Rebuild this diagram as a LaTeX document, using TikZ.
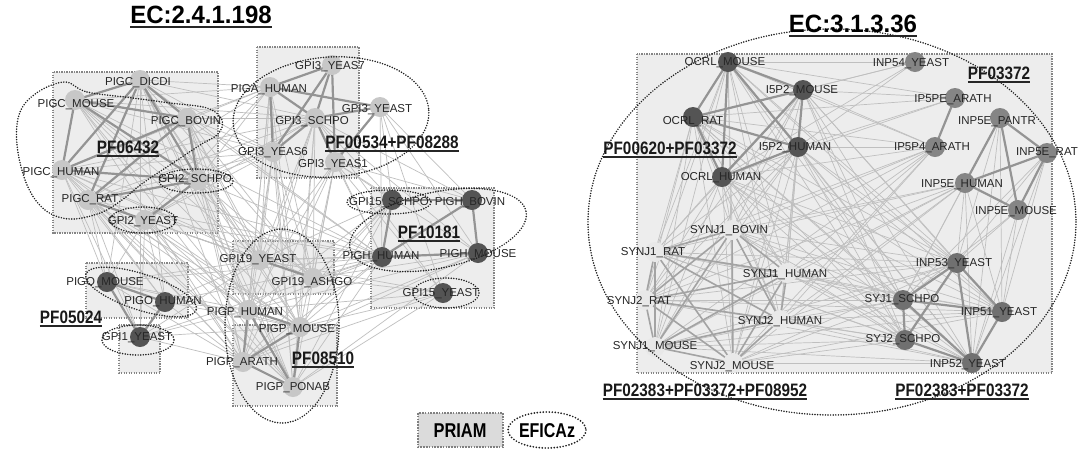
\documentclass[tikz,border=0pt]{standalone}
\usepackage{fontspec}
\usepackage{graphicx}
\setmainfont{Liberation Sans}
\definecolor{cLight}{gray}{0.78}
\definecolor{cDark}{gray}{0.33}
\definecolor{cMid}{gray}{0.52}
\definecolor{cMidd}{gray}{0.44}
\definecolor{cPale}{gray}{0.91}
\definecolor{boxfill}{gray}{0.93}
\begin{document}
\begin{tikzpicture}[x=1pt,y=-1pt,
  lab/.style={font=\fontsize{11.5}{13}\selectfont, text=black!85, inner sep=0pt},
  pf/.style={font=\fontsize{18}{20}\selectfont\bfseries, inner sep=0pt, text=black!90},
  ttl/.style={font=\fontsize{25}{28}\selectfont\bfseries, inner sep=0pt},
  ul/.style={line width=1.8pt, black!85},
  nd/.style={circle, minimum size=20pt, inner sep=0pt, draw=none},
  thinE/.style={draw=black!25, line width=0.7pt},
  thickE/.style={draw=black!42, line width=2.2pt},
  medE/.style={draw=black!36, line width=1.6pt},
  prbox/.style={fill=boxfill, draw=black!48, line width=1.7pt, dash pattern=on 1.4pt off 1.1pt},
  ef/.style={draw=black!88, line width=1.7pt, dash pattern=on 0pt off 2.6pt, line cap=round}]
\useasboundingbox (0,0) rectangle (1080,451);
\fill[white] (0,0) rectangle (1080,451);

% ---------- coordinates: left cluster ----------
\foreach \n/\x/\y in {dicdi/140/80, pmouse/75/100, bovin/187/118, phuman/62/170, gtschpo/198/180, prat/88/200, gtyeast/145/220,
  gysev/332/65, piga/270/87, gyeast/380/107, gschpo/315/118, gysix/273/152, gyone/335/162,
  gfschpo/392/200, hbovin/472/200, hhuman/382/257, hmouse/478/253, gfyeast/443/293,
  gnyeast/260/260, gnashgo/313/278,
  phum/248/310, pmou/300/327, parath/243/362, pponab/293/387,
  omouse/107/282, ohuman/165/302, goyeast/140/337}
  \coordinate (\n) at (\x,\y);
% ---------- coordinates: right cluster ----------
\foreach \n/\x/\y in {ocmouse/728/62, ipmouse/803/90, ocrat/693/117, iphuman/798/147, ochuman/722/177,
  sobovin/732/230, sorat/655/252, sohuman/787/273, strat/645/300, sthuman/780/320, somouse/655/347, stmouse/733/363,
  ifour/915/62, ippe/955/98, epantr/1000/118, ippf/935/147, erat/1047/153, ehuman/965/183, emouse/1018/210,
  ithree/957/263, sjone/903/300, ione/1002/312, sjtwo/905/340, itwo/972/363}
  \coordinate (\n) at (\x,\y);

% ---------- PRIAM boxes ----------
\path[prbox] (53,72) rectangle (218,233);
\path[prbox] (257,47) rectangle (359,178);
\path[prbox] (371,188) rectangle (494,308);
\path[prbox] (233,241) rectangle (334,294);
\path[prbox] (233,325) rectangle (337,406);
\path[prbox] (86,263) rectangle (188,318);
\path[prbox] (119,325) rectangle (160,373);
\path[prbox] (637,54) rectangle (1052,373);

% ---------- thin edges, left ----------
\foreach \a in {dicdi,pmouse,bovin,phuman,gtschpo,prat,gtyeast} {
  \foreach \b in {phum,pmou,parath,pponab,gnyeast,gnashgo,gschpo,piga,gysix,hhuman} \draw[thinE] (\a) -- (\b);
}
\foreach \a in {gysix,gyone,gschpo,piga} {
  \foreach \b in {phum,pmou,parath,pponab,gnyeast,gnashgo} \draw[thinE] (\a) -- (\b);
}
\foreach \a in {gyone,gyeast,gschpo} {
  \foreach \b in {gfschpo,hbovin,hhuman,hmouse,gfyeast} \draw[thinE] (\a) -- (\b);
}
\foreach \a in {phum,pmou,parath,pponab,gnyeast,gnashgo} {
  \foreach \b in {hhuman,hmouse,gfyeast,gfschpo} \draw[thinE] (\a) -- (\b);
}
\foreach \a in {omouse,ohuman,goyeast} {
  \foreach \b in {phum,parath,gnyeast,pmou,phuman,prat,gtyeast,dicdi,hhuman} \draw[thinE] (\a) -- (\b);
}
% ---------- thin edges, right ----------
\foreach \a in {ocmouse,ipmouse,ocrat,iphuman,ochuman} {
  \foreach \b in {sobovin,sorat,sohuman,strat,sthuman,somouse,stmouse,ithree,sjone,ione,sjtwo,itwo,ifour,ippe,ippf} \draw[thinE] (\a) -- (\b);
}
\foreach \a in {sobovin,sorat,sohuman,strat,sthuman,somouse,stmouse} {
  \foreach \b in {ithree,sjone,ione,sjtwo,itwo,ippf,ehuman} \draw[thinE] (\a) -- (\b);
}
\foreach \a in {ehuman,emouse,erat,epantr} {
  \foreach \b in {ithree,ione,itwo,sjone} \draw[thinE] (\a) -- (\b);
}

% ---------- thick edges ----------
\foreach \a/\b in {dicdi/pmouse, dicdi/phuman, dicdi/prat, dicdi/gtschpo, dicdi/bovin, pmouse/gtschpo, pmouse/bovin,
  bovin/gtschpo, bovin/prat, phuman/gtschpo, prat/gtschpo, phuman/bovin, gtschpo/gtyeast, prat/gtyeast, pmouse/phuman,
  gysev/piga, gysev/gschpo, gysev/gysix, gysev/gyone, piga/gschpo, piga/gysix, gschpo/gyone, gschpo/gyeast, gyeast/gyone,
  gysix/gschpo, piga/gyeast,
  hbovin/hmouse, hhuman/hmouse, hhuman/hbovin, gfschpo/hhuman, gfschpo/hbovin,
  gnyeast/gnashgo,
  phum/parath, phum/pponab, pmou/parath, pmou/pponab, parath/pponab, phum/pmou,
  omouse/ohuman, omouse/goyeast, ohuman/goyeast,
  ocmouse/ipmouse, ocmouse/ocrat, ocmouse/iphuman, ocmouse/ochuman, ipmouse/ocrat, ipmouse/iphuman, ipmouse/ochuman,
  ocrat/iphuman, ocrat/ochuman, iphuman/ochuman,
  epantr/erat, epantr/ehuman, epantr/emouse, erat/ehuman, erat/emouse, ehuman/emouse, ippe/ippf,
  ithree/ione, ithree/itwo, ione/itwo, sjone/sjtwo, ithree/sjone, sjone/itwo, sjtwo/itwo, ithree/sjtwo, sjone/ione}
  \draw[thickE] (\a) -- (\b);
\foreach \a/\b in {sobovin/sorat, sobovin/sohuman, sobovin/strat, sobovin/sthuman, sobovin/somouse, sobovin/stmouse,
  sorat/sohuman, sorat/strat, sorat/sthuman, sorat/somouse, sorat/stmouse, sohuman/strat, sohuman/sthuman, sohuman/somouse,
  sohuman/stmouse, strat/sthuman, strat/somouse, strat/stmouse, sthuman/somouse, sthuman/stmouse, somouse/stmouse}
  \draw[medE] (\a) -- (\b);

% ---------- circles ----------
\foreach \n in {dicdi,pmouse,bovin,phuman,gtschpo,prat,gtyeast,gysev,piga,gyeast,gschpo,gysix,gyone,gnyeast,gnashgo,phum,pmou,parath,pponab}
  \node[nd, fill=cLight] (c-\n) at (\n) {};
\foreach \n in {gfschpo,hbovin,hhuman,hmouse,gfyeast,omouse,ohuman,goyeast,ocmouse,ipmouse,ocrat,iphuman,ochuman}
  \node[nd, fill=cDark] (c-\n) at (\n) {};
\foreach \n in {ifour,ippe,epantr,ippf,erat,ehuman,emouse}
  \node[nd, fill=cMid] (c-\n) at (\n) {};
\foreach \n in {ithree,sjone,ione,sjtwo,itwo}
  \node[nd, fill=cMidd] (c-\n) at (\n) {};
\foreach \n in {sobovin,sorat,sohuman,strat,sthuman,somouse,stmouse}
  \node[nd, fill=cPale] (c-\n) at (\n) {};

% ---------- EFICAz outlines ----------
\draw[ef] plot[smooth cycle, tension=0.6] coordinates {(65,82) (87,92) (133,98) (170,103) (207,108) (222,120) (218,134) (200,145)
  (173,163) (143,183) (122,200) (100,213) (70,219) (45,210) (27,185) (17,145) (20,112) (38,92)};
\draw[ef] (196,181) ellipse [x radius=37, y radius=12];
\draw[ef] (143,220) ellipse [x radius=33, y radius=13];
\draw[ef, rotate around={4:(331,117)}] (331,117) ellipse [x radius=98, y radius=60];
\draw[ef] (389,202) ellipse [x radius=42, y radius=12];
\draw[ef, rotate around={12:(438,230)}] (438,230) ellipse [x radius=90, y radius=38];
\draw[ef] (446,293) ellipse [x radius=33, y radius=15];
\draw[ef] (282,326) ellipse [x radius=57, y radius=97];
\draw[ef, rotate around={-18:(141,292)}] (141,292) ellipse [x radius=58, y radius=18];
\draw[ef] (138,340) ellipse [x radius=36, y radius=15];
\draw[ef] (832,222) ellipse [x radius=244, y radius=193];

% ---------- node labels ----------
\foreach \x/\y/\t [count=\i] in {138/83/PIGC\_DICDI, 76/105/PIGC\_MOUSE, 186/122/PIGC\_BOVIN, 61/173/PIGC\_HUMAN,
  195/180/GPI2\_SCHPO, 90/200/PIGC\_RAT, 143/222/GPI2\_YEAST, 330/67/GPI3\_YEAS7, 269/90/PIGA\_HUMAN,
  377/110/GPI3\_YEAST, 312/122/GPI3\_SCHPO, 273/153/GPI3\_YEAS6, 333/165/GPI3\_YEAS1, 389/203/GPI15\_SCHPO,
  470/203/PIGH\_BOVIN, 381/257/PIGH\_HUMAN, 478/255/PIGH\_MOUSE, 441/294/GPI15\_YEAST, 258/260/GPI19\_YEAST,
  312/283/GPI19\_ASHGO, 245/313/PIGP\_HUMAN, 297/330/PIGP\_MOUSE, 242/363/PIGP\_ARATH, 293/388/PIGP\_PONAB,
  105/283/PIGO\_MOUSE, 163/302/PIGO\_HUMAN, 137/338/GPI1\_YEAST,
  725/63/OCRL\_MOUSE, 802/91/I5P2\_MOUSE, 693/122/OCRL\_RAT, 795/148/I5P2\_HUMAN, 721/178/OCRL\_HUMAN,
  729/231/SYNJ1\_BOVIN, 653/253/SYNJ1\_RAT, 785/275/SYNJ1\_HUMAN, 639/302/SYNJ2\_RAT, 780/322/SYNJ2\_HUMAN,
  655/347/SYNJ1\_MOUSE, 732/367/SYNJ2\_MOUSE, 911/64/INP54\_YEAST, 953/100/IP5PE\_ARATH, 997/122/INP5E\_PANTR,
  932/148/IP5P4\_ARATH, 1047/153/INP5E\_RAT, 962/185/INP5E\_HUMAN, 1016/212/INP5E\_MOUSE, 954/264/INP53\_YEAST,
  902/300/SYJ1\_SCHPO, 999/313/INP51\_YEAST, 903/340/SYJ2\_SCHPO, 968/365/INP52\_YEAST}
  \node[lab] (lab\i) at (\x,\y) {\t};

% ---------- family labels ----------
\foreach \x/\y/\t [count=\i] in {128/147/PF06432, 392/142/PF00534+PF08288, 429/232/PF10181, 71/317/PF05024,
  323/358/PF08510, 670/148/PF00620+PF03372, 999/73/PF03372, 705/390/PF02383+PF03372+PF08952, 962/390/PF02383+PF03372}
{
  \node[pf] (pf\i) at (\x,\y) {\scalebox{0.85}[1]{\t}};
  \draw[ul] ([yshift=-2.5pt]pf\i.base west) -- ([yshift=-2.5pt]pf\i.base east);
}

% ---------- titles ----------
\node[ttl, anchor=base] (tl) at (201,23) {\scalebox{0.96}[1]{EC:2.4.1.198}};
\node[ttl, anchor=base] (tr) at (853,32) {\scalebox{0.96}[1]{EC:3.1.3.36}};
\draw[ul, line width=2.2pt] ([yshift=-4pt]tl.base west) -- ([yshift=-4pt]tl.base east);
\draw[ul, line width=2.2pt] ([yshift=-4pt]tr.base west) -- ([yshift=-4pt]tr.base east);

% ---------- legend ----------
\draw[fill=black!14, draw=black!50, line width=2.4pt, dash pattern=on 1.6pt off 1.2pt] (418,413) rectangle (503,447);
\node[font=\fontsize{20}{22}\selectfont\bfseries, inner sep=0pt] (priam) at (460,431) {\scalebox{0.82}[1]{PRIAM}};
\draw[ef, line width=1.9pt, dash pattern=on 0pt off 3pt] (547,430) ellipse [x radius=39, y radius=18];
\node[font=\fontsize{20}{22}\selectfont\bfseries, inner sep=0pt] (eficaz) at (547,431) {\scalebox{0.8}[1]{EFICAz}};
\end{tikzpicture}
\end{document}
